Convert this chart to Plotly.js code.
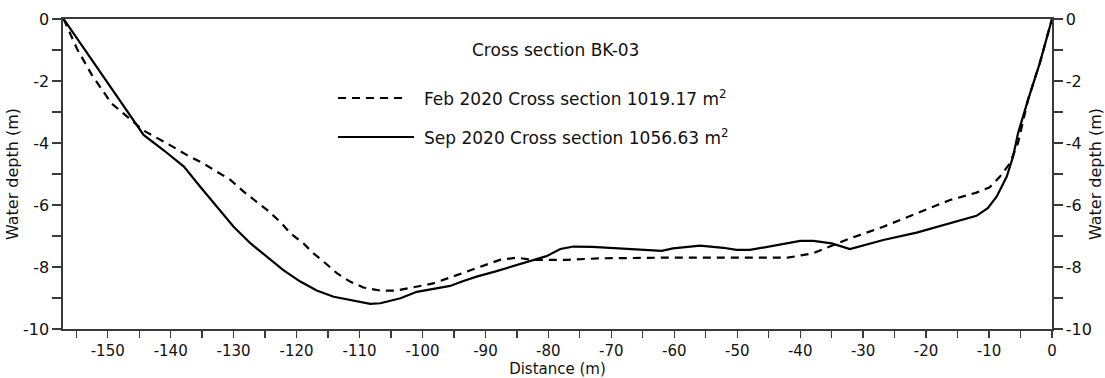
<!DOCTYPE html>
<html>
<head>
<meta charset="utf-8">
<script src="https://cdn.plot.ly/plotly-3.0.1.min.js"></script>
<style>html,body{margin:0;padding:0;background:#fff;}#chart{width:1105px;height:378px;}</style>
</head>
<body>
<div id="chart"></div>
<script>
// Sep 2020 survey (solid)
const sepDistance = [-157, -144.3, -141, -137.9, -135.3, -132.6, -130, -127.3, -124.7, -122.1, -119.4, -116.8, -114.1, -111.5, -108.3, -106.7, -103.5, -100.9, -98, -95.6, -93.5, -91.4, -88.5, -86.1, -83, -80.3, -78.1, -76, -73, -70.2, -67.6, -62, -60.2, -55.9, -52.2, -50.1, -48, -44.3, -40, -37.9, -35, -32.1, -26.8, -21.5, -16.2, -12, -10.2, -8.8, -7.2, -6.2, -5.4, -3.8, -1.95, 0];
const sepDepth = [0, -3.74, -4.25, -4.76, -5.41, -6.05, -6.7, -7.24, -7.67, -8.1, -8.47, -8.76, -8.96, -9.06, -9.19, -9.17, -9.01, -8.8, -8.7, -8.61, -8.45, -8.31, -8.15, -8.01, -7.82, -7.65, -7.42, -7.34, -7.35, -7.38, -7.43, -7.48, -7.4, -7.31, -7.38, -7.45, -7.45, -7.31, -7.16, -7.16, -7.24, -7.42, -7.13, -6.89, -6.59, -6.35, -6.1, -5.73, -5.09, -4.45, -3.69, -2.6, -1.43, 0];

// Feb 2020 survey (dashed)
const febDistance = [-157, -154.9, -152.5, -149.4, -146.9, -144.3, -140.6, -137.4, -134.8, -132.6, -130.5, -128.4, -126.3, -124.7, -122.6, -121, -118.9, -117.3, -115.4, -113.6, -111.5, -109.4, -106.7, -104.1, -98.3, -93, -87.7, -85, -82.4, -77.1, -71.8, -62, -50, -42, -38, -34.8, -32.1, -26.8, -21.5, -16.2, -12, -9.9, -8.3, -6.7, -5.4, -3.8, -1.95, 0];
const febDepth = [0, -0.95, -1.81, -2.72, -3.15, -3.6, -4.01, -4.39, -4.66, -4.92, -5.19, -5.57, -5.89, -6.16, -6.54, -6.91, -7.24, -7.56, -7.88, -8.2, -8.47, -8.66, -8.76, -8.76, -8.53, -8.15, -7.77, -7.7, -7.77, -7.77, -7.72, -7.7, -7.7, -7.7, -7.56, -7.29, -7.08, -6.7, -6.27, -5.84, -5.6, -5.43, -5.09, -4.66, -4.0, -2.6, -1.43, 0];

const chartTitle = "Cross section BK-03";
const febLabel = "Feb 2020 Cross section 1019.17 m<sup>2</sup>";
const sepLabel = "Sep 2020 Cross section 1056.63 m<sup>2</sup>";
const xTitle = "Distance (m)";
const yTitle = "Water depth (m)";

const xTickVals = [-150, -140, -130, -120, -110, -100, -90, -80, -70, -60, -50, -40, -30, -20, -10, 0];
const xTickText = ["-150", "-140", "-130", "-120", "-110", "-100", "-90", "-80", "-70", "-60", "-50", "-40", "-30", "-20", "-10", "0"];
const yTickVals = [0, -2, -4, -6, -8, -10];
const yTickText = ["0", "-2", "-4", "-6", "-8", "-10"];

const axisColor = "#3a3a3a";
const font = "DejaVu Sans, sans-serif";

const traces = [
  {x: febDistance, y: febDepth, mode: "lines", name: "Feb 2020",
   line: {color: "#000", width: 2.2, dash: "8px,6px"}, showlegend: false, hoverinfo: "skip"},
  {x: sepDistance, y: sepDepth, mode: "lines", name: "Sep 2020",
   line: {color: "#000", width: 2.2}, showlegend: false, hoverinfo: "skip"},
  // same Sep series bound to the right-hand axis so that axis is drawn (invisible)
  {x: sepDistance, y: sepDepth, yaxis: "y2", mode: "lines", line: {width: 0}, opacity: 0, showlegend: false, hoverinfo: "skip"}
];

const yCommon = {
  range: [-10, 0], tickvals: yTickVals, ticktext: yTickText, ticks: "outside", ticklen: 9, tickwidth: 1.3, tickcolor: axisColor,
  showline: true, linecolor: axisColor, linewidth: 1.6, showgrid: false, zeroline: false,
  tickfont: {family: font, size: 16, color: "#111"},
  minor: {dtick: 1, tick0: 0, ticks: "outside", ticklen: 9, tickwidth: 1.3, tickcolor: axisColor, showgrid: false},
  title: {text: yTitle, font: {family: font, size: 16, color: "#111"}, standoff: 0}
};

const layout = {
  width: 1105, height: 378,
  margin: {l: 63, r: 53, t: 19, b: 49},
  paper_bgcolor: "#fff", plot_bgcolor: "#fff",
  xaxis: {
    range: [-157.1, 0], tickvals: xTickVals, ticktext: xTickText, ticks: "outside", ticklen: 7, tickwidth: 1.3, tickcolor: axisColor,
    showline: true, mirror: true, linecolor: axisColor, linewidth: 1.6, showgrid: false, zeroline: false,
    tickfont: {family: font, size: 15, color: "#111"},
    minor: {dtick: 5, tick0: 0, ticks: "outside", ticklen: 7, tickwidth: 1.3, tickcolor: axisColor, showgrid: false},
    title: {text: xTitle, font: {family: font, size: 15, color: "#111"}, standoff: 2}
  },
  yaxis: Object.assign({}, yCommon, {side: "left"}),
  yaxis2: Object.assign({}, yCommon, {side: "right", overlaying: "y", anchor: "x"}),
  shapes: [
    {type: "line", xref: "paper", yref: "paper", x0: (338-63)/989, x1: (408-63)/989, y0: (329-98)/310, y1: (329-98)/310,
     line: {color: "#000", width: 2.2, dash: "8px,6px"}},
    {type: "line", xref: "paper", yref: "paper", x0: (338-63)/989, x1: (414-63)/989, y0: (329-137)/310, y1: (329-137)/310,
     line: {color: "#000", width: 2.2}}
  ],
  annotations: [
    {text: chartTitle, xref: "paper", yref: "paper", x: (555-63)/989, y: (329-50)/310, xanchor: "center", yanchor: "middle",
     showarrow: false, font: {family: font, size: 17, color: "#111"}},
    {text: febLabel, xref: "paper", yref: "paper", x: (422-63)/989, y: (329-98)/310, xanchor: "left", yanchor: "middle",
     showarrow: false, font: {family: font, size: 17, color: "#111"}},
    {text: sepLabel, xref: "paper", yref: "paper", x: (422-63)/989, y: (329-137)/310, xanchor: "left", yanchor: "middle",
     showarrow: false, font: {family: font, size: 17, color: "#111"}}
  ]
};

Plotly.newPlot("chart", traces, layout, {displayModeBar: false, staticPlot: true});
</script>
</body>
</html>
